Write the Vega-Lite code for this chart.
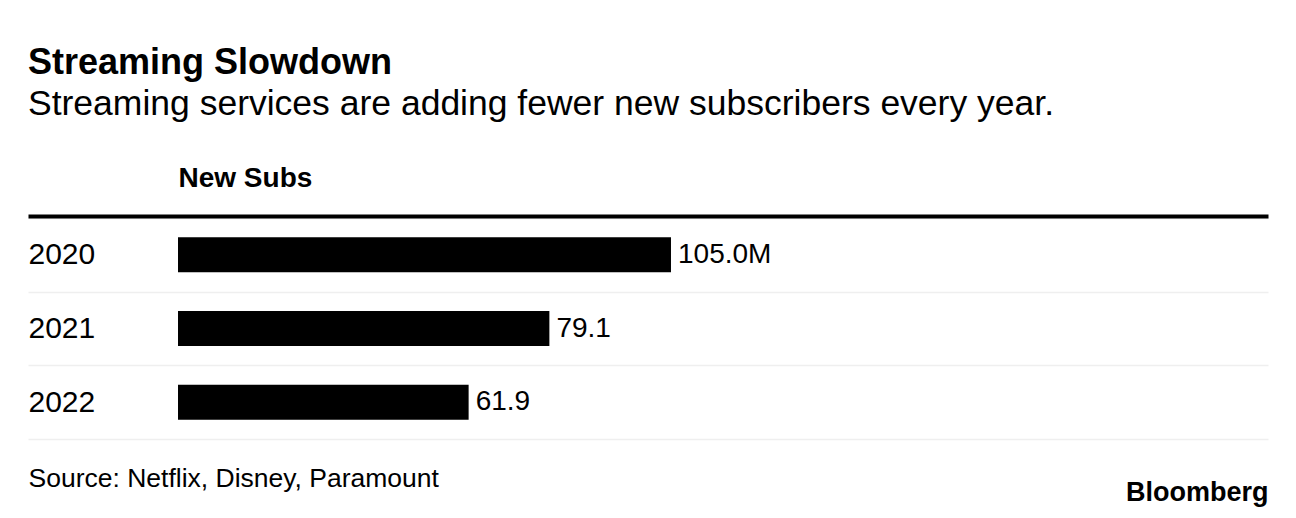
{
  "$schema": "https://vega.github.io/schema/vega-lite/v6.json",
  "width": 1240,
  "height": 221,
  "autosize": {"type": "none"},
  "padding": {"left": 28, "top": 218, "right": 28, "bottom": 79},
  "background": "white",
  "config": {"view": {"stroke": null}, "font": "Liberation Sans"},
  "title": {
    "text": "Streaming Slowdown",
    "subtitle": "Streaming services are adding fewer new subscribers every year.",
    "anchor": "start",
    "frame": "group",
    "font": "Liberation Sans",
    "fontSize": 36,
    "fontWeight": "bold",
    "color": "black",
    "subtitleFont": "Liberation Sans",
    "subtitleFontSize": 35.5,
    "subtitleColor": "black",
    "subtitlePadding": 5,
    "offset": 41
  },
  "data": {
    "values": [
      {"year": "2020", "value": 105.0, "label": "105.0M"},
      {"year": "2021", "value": 79.1, "label": "79.1"},
      {"year": "2022", "value": 61.9, "label": "61.9"}
    ]
  },
  "layer": [
    {
      "mark": {"type": "bar", "color": "black", "height": {"band": 0.475}},
      "encoding": {
        "y": {
          "field": "year",
          "type": "ordinal",
          "scale": {"paddingInner": 0, "paddingOuter": 0},
          "axis": {
            "orient": "left",
            "title": null,
            "domain": false,
            "ticks": false,
            "tickSize": 0,
            "tickBand": "extent",
            "labelAlign": "left",
            "labelPadding": 0,
            "labelFontSize": 30,
            "labelColor": "black",
            "labelFont": "Liberation Sans",
            "grid": true,
            "gridColor": "#efefef",
            "gridWidth": 1.5
          }
        },
        "x": {
          "field": "value",
          "type": "quantitative",
          "scale": {"domain": [-31.95, 232.16], "nice": false, "zero": false},
          "axis": {
            "orient": "top",
            "offset": 2,
            "domain": true,
            "domainColor": "black",
            "domainWidth": 4,
            "labels": false,
            "ticks": false,
            "grid": false,
            "title": "New Subs",
            "titleFont": "Liberation Sans",
            "titleFontSize": 28,
            "titleFontWeight": "bold",
            "titleColor": "black",
            "titleAlign": "left",
            "titleAnchor": "start",
            "titleX": 150,
            "titleY": -30,
            "titleBaseline": "alphabetic",
            "zindex": 2
          }
        },
        "x2": {"datum": 0}
      }
    },
    {
      "mark": {"type": "text", "align": "left", "dx": 7, "baseline": "middle", "fontSize": 28, "color": "black", "font": "Liberation Sans"},
      "encoding": {
        "y": {
          "field": "year",
          "type": "ordinal",
          "axis": {
            "orient": "right",
            "title": "Bloomberg",
            "domain": false,
            "ticks": false,
            "labels": false,
            "grid": false,
            "titleAngle": 0,
            "titleAlign": "right",
            "titleX": 0,
            "titleY": 282,
            "titleBaseline": "alphabetic",
            "titleFont": "Liberation Sans",
            "titleFontSize": 27,
            "titleFontWeight": 900,
            "titleColor": "black"
          }
        },
        "x": {
          "field": "value",
          "type": "quantitative",
          "axis": {
            "orient": "bottom",
            "title": "Source: Netflix, Disney, Paramount",
            "domain": false,
            "ticks": false,
            "labels": false,
            "grid": false,
            "titleAnchor": "start",
            "titleAlign": "left",
            "titleX": 0,
            "titleY": 47,
            "titleBaseline": "alphabetic",
            "titleFont": "Liberation Sans",
            "titleFontSize": 26.5,
            "titleFontWeight": "normal",
            "titleColor": "black"
          }
        },
        "text": {"field": "label"}
      }
    }
  ],
  "resolve": {"axis": {"x": "independent", "y": "independent"}}
}
